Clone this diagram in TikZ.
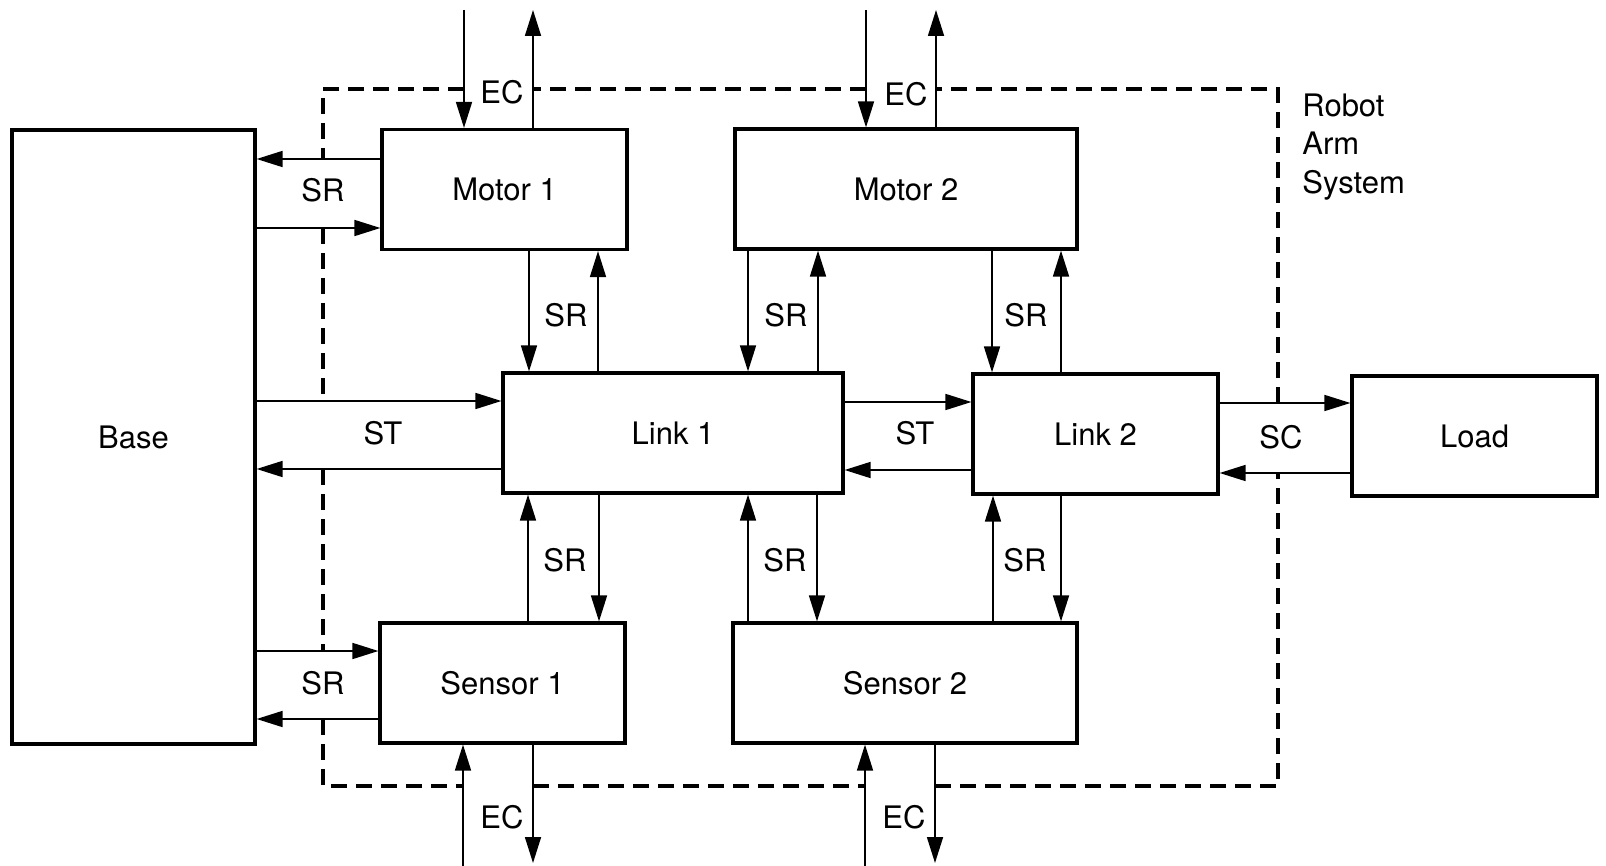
\documentclass[tikz,border=0pt]{standalone}
\usepackage{fontspec}
\setsansfont{TeX Gyre Heros}
\usetikzlibrary{arrows.meta}

\begin{document}
\begin{tikzpicture}[
  x=0.5pt, y=-0.5pt,
  font=\sffamily\fontsize{15.5}{19.25}\selectfont,
  >={Triangle[length=13pt,width=8pt]},
  block/.style={draw, line width=1.6pt, inner sep=0pt, minimum height=60pt},
  narrow/.style={block, minimum width=122.5pt},
  wide/.style={block, minimum width=171pt},
  tag/.style={inner sep=1pt},
  flow/.style={->, line width=0.85pt},
  boundary/.style={line width=1.7pt, dash pattern=on 8pt off 4.5pt}
]
  \useasboundingbox (0,0) rectangle (1606,866);

  % blocks
  \node[block, minimum width=121.5pt, minimum height=307pt] (base) at (133.5,437) {Base};
  \node[narrow] (motor1) at (504.5,189.5) {Motor 1};
  \node[wide] (motor2) at (906,189) {Motor 2};
  \node[wide, minimum width=170pt] (link1) at (673,433) {Link 1};
  \node[narrow] (link2) at (1095.5,434) {Link 2};
  \node[narrow] (load) at (1474.5,436) {Load};
  \node[narrow] (sensor1) at (502.5,683) {Sensor 1};
  \node[wide, minimum width=172pt] (sensor2) at (905,683) {Sensor 2};
  \node[tag, anchor=west, align=left] (system) at (1300,147) {Robot\\Arm\\System};

  % system boundary
  \draw[boundary] (464,89) -- (323,89) -- (323,159);
  \draw[boundary] (323,228) -- (323,401);
  \draw[boundary] (323,469) -- (323,651);
  \draw[boundary] (323,719) -- (323,786) -- (463,786);
  \draw[boundary] (533,786) -- (865,786);
  \draw[boundary] (935,786) -- (1278,786) -- (1278,473);
  \draw[boundary] (1278,403) -- (1278,89) -- (936,89);
  \draw[boundary] (866,89) -- (533,89);

  % external connections
  \coordinate (ec1in) at (464,10);
  \coordinate (ec1out) at (533,10);
  \coordinate (ec2in) at (866,10);
  \coordinate (ec2out) at (936,10);
  \coordinate (ec3in) at (463,866);
  \coordinate (ec3out) at (533,863);
  \coordinate (ec4in) at (865,866);
  \coordinate (ec4out) at (935,863);
  \draw[flow] (ec1in) -- (motor1.north -| ec1in);
  \draw[flow] (motor1.north -| ec1out) -- (ec1out);
  \draw[flow] (ec2in) -- (motor2.north -| ec2in);
  \draw[flow] (motor2.north -| ec2out) -- (ec2out);
  \draw[flow] (ec3in) -- (sensor1.south -| ec3in);
  \draw[flow] (sensor1.south -| ec3out) -- (ec3out);
  \draw[flow] (ec4in) -- (sensor2.south -| ec4in);
  \draw[flow] (sensor2.south -| ec4out) -- (ec4out);

  % base
  \draw[flow] (motor1.west |- 0,159) -- (base.east |- 0,159);
  \draw[flow] (base.east |- 0,228) -- (motor1.west |- 0,228);
  \draw[flow] (base.east |- 0,401) -- (link1.west |- 0,401);
  \draw[flow] (link1.west |- 0,469) -- (base.east |- 0,469);
  \draw[flow] (base.east |- 0,651) -- (sensor1.west |- 0,651);
  \draw[flow] (sensor1.west |- 0,719) -- (base.east |- 0,719);

  % motors to links
  \draw[flow] (motor1.south -| 529,0) -- (link1.north -| 529,0);
  \draw[flow] (link1.north -| 598,0) -- (motor1.south -| 598,0);
  \draw[flow] (motor2.south -| 748,0) -- (link1.north -| 748,0);
  \draw[flow] (link1.north -| 818,0) -- (motor2.south -| 818,0);
  \draw[flow] (motor2.south -| 992,0) -- (link2.north -| 992,0);
  \draw[flow] (link2.north -| 1061,0) -- (motor2.south -| 1061,0);

  % links, load
  \draw[flow] (link1.east |- 0,402) -- (link2.west |- 0,402);
  \draw[flow] (link2.west |- 0,470) -- (link1.east |- 0,470);
  \draw[flow] (link2.east |- 0,403) -- (load.west |- 0,403);
  \draw[flow] (load.west |- 0,473) -- (link2.east |- 0,473);

  % sensors to links
  \draw[flow] (sensor1.north -| 528,0) -- (link1.south -| 528,0);
  \draw[flow] (link1.south -| 599,0) -- (sensor1.north -| 599,0);
  \draw[flow] (sensor2.north -| 748,0) -- (link1.south -| 748,0);
  \draw[flow] (link1.south -| 817,0) -- (sensor2.north -| 817,0);
  \draw[flow] (sensor2.north -| 993,0) -- (link2.south -| 993,0);
  \draw[flow] (link2.south -| 1061,0) -- (sensor2.north -| 1061,0);

  % signal labels
  \node[tag] (ecM1) at (502,92) {EC};
  \node[tag] (ecM2) at (906,94) {EC};
  \node[tag] (ecS1) at (502,817) {EC};
  \node[tag] (ecS2) at (904,817) {EC};
  \node[tag] (srM1) at (323,190) {SR};
  \node[tag] (srS1) at (323,683) {SR};
  \node[tag] (srM1L1) at (566,315) {SR};
  \node[tag] (srM2L1) at (786,315) {SR};
  \node[tag] (srM2L2) at (1026,315) {SR};
  \node[tag] (srS1L1) at (565,560) {SR};
  \node[tag] (srS2L1) at (785,560) {SR};
  \node[tag] (srS2L2) at (1025,560) {SR};
  \node[tag] (stBase) at (383,433) {ST};
  \node[tag] (stLink) at (915,433) {ST};
  \node[tag] (scLoad) at (1281,437) {SC};
\end{tikzpicture}
\end{document}
